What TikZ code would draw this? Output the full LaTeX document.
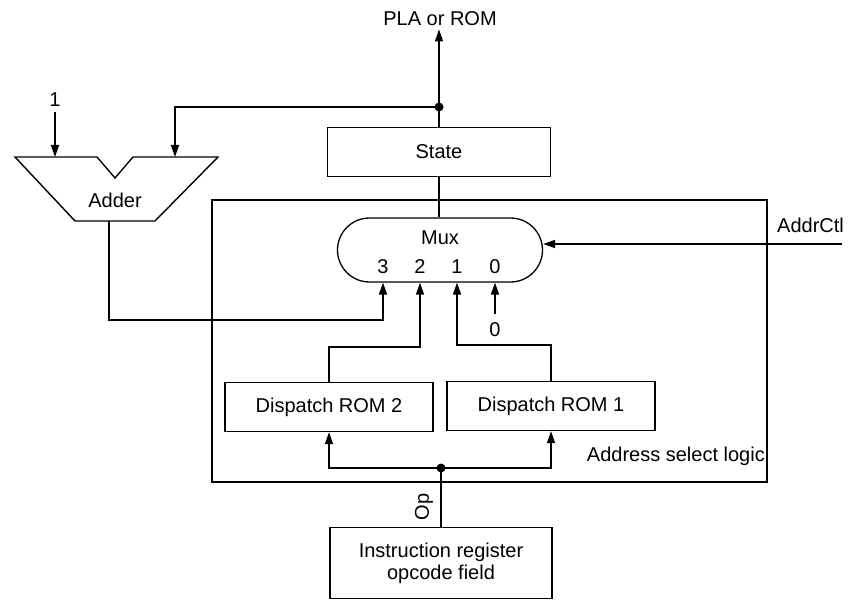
\documentclass[tikz,border=0pt]{standalone}
\usepackage{fontspec}
\setmainfont{Liberation Sans}
\usetikzlibrary{arrows.meta,positioning,calc}
\tikzset{
  blk/.style={draw, line width=1.3pt, minimum height=49pt, inner sep=0pt,
    align=center, font=\fontsize{20}{22}\selectfont},
  lbl/.style={inner sep=0pt, font=\fontsize{20}{22}\selectfont},
  wire/.style={line width=1.5pt},
  arr/.style={wire, -{Triangle[length=12pt,width=8pt]}},
  jdot/.style={circle, fill, inner sep=0pt, minimum size=9pt}
}

\begin{document}
\begin{tikzpicture}[x=1pt,y=-1pt]
  \useasboundingbox (0,0) rectangle (858,601);
  % address select logic frame
  \draw[line width=1.2pt] (212,200) rectangle (767,482);
  \node[lbl, anchor=base east] (asl) at (765,461) {Address select logic};
  % state register and output
  \node[blk, minimum width=223pt] (state) at (439,152) {State};
  \node[lbl, anchor=base] (pla) at (440,26) {PLA or ROM};
  \node[jdot] (tap) at (439,107) {};
  \draw[wire] (state.north) -- (tap.center);
  \draw[arr, shorten >=3pt] (tap.center) -- (pla.south -| tap);
  % adder
  \draw[line width=1.4pt] (15,157) -- (97,157) -- (115,178) -- (133,157)
    -- (218,157) -- (155,221) -- (75,221) -- cycle;
  \node[lbl] (adder) at (115,200) {Adder};
  \coordinate (addA) at (55,157);
  \coordinate (addB) at (175,157);
  \coordinate (addOut) at (109,221);
  \node[lbl] (one) at (55,100) {1};
  \draw[arr, shorten <=5pt] (one.south) -- (addA);
  \draw[arr] (tap.center) -| (addB);
  % mux
  \node[draw, line width=1.3pt, rounded corners=32pt, minimum width=205pt,
    minimum height=64pt] (mux) at (440,250) {};
  \node[lbl] (muxlbl) at (440,238) {Mux};
  \foreach \i/\x in {3/383,2/420,1/457,0/495}
    \node[lbl] (in\i) at (\x,267) {\i};
  \draw[wire] (state.south) -- (mux.north -| state);
  % AddrCtl
  \node[lbl, anchor=base west] (actl) at (777,233) {AddrCtl};
  \coordinate (actlin) at (842,244);
  \draw[arr] (actlin) -- (mux.east |- actlin);
  % dispatch ROMs
  \node[blk, minimum width=208pt] (disp2) at (329,407) {Dispatch ROM 2};
  \node[blk, minimum width=208pt] (disp1) at (551,406) {Dispatch ROM 1};
  % mux inputs
  \coordinate (k3) at (383,320);
  \coordinate (k2) at (420,347);
  \coordinate (k1) at (457,345);
  \draw[arr] (addOut) |- (k3) -- (k3 |- mux.south);
  \draw[arr] (disp2.north) |- (k2) -- (k2 |- mux.south);
  \draw[arr] (disp1.north) |- (k1) -- (k1 |- mux.south);
  \node[lbl] (zero) at (495,330) {0};
  \draw[arr, shorten <=9pt] (zero.north) -- (zero |- mux.south);
  % instruction register
  \node[blk, minimum width=222pt, minimum height=71pt] (ir) at (441,563)
    {Instruction register\\opcode field};
  \node[jdot] (opj) at (441,468) {};
  \draw[wire] (ir.north) -- (opj.center);
  \draw[arr] (opj.center) -| (disp2.south);
  \draw[arr] (opj.center) -| (disp1.south);
  \node[lbl, rotate=90] (op) at (424,507) {Op};
\end{tikzpicture}
\end{document}
